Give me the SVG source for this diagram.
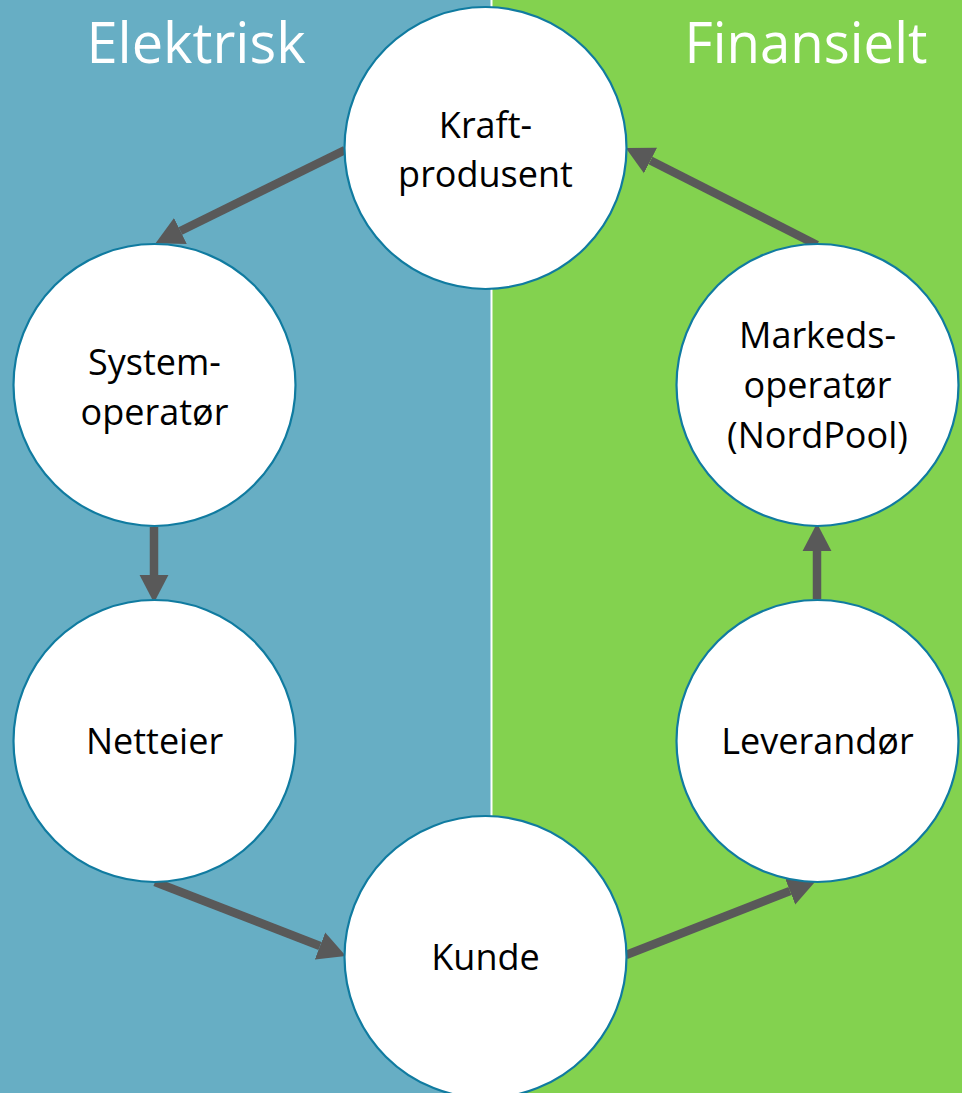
<svg xmlns="http://www.w3.org/2000/svg" width="962" height="1093" viewBox="0 0 962 1093">
<defs>
<style>
.node circle{fill:#FFFFFF;stroke:#107BA0;stroke-width:2.2}
.node text{font-family:"Open Sans","Noto Sans","Liberation Sans",sans-serif;font-size:36px;fill:#000;text-anchor:middle}
.title{font-family:"Open Sans","Noto Sans","Liberation Sans",sans-serif;font-size:56px;fill:#FFFFFF;text-anchor:middle}
.conn line{stroke:#595959;stroke-width:8.5;marker-end:url(#ah)}
</style>
<marker id="ah" markerUnits="userSpaceOnUse" markerWidth="30" markerHeight="30" viewBox="0 -13 26 26" refX="0" refY="0" orient="auto">
<path d="M0,-12.5 L24,0 L0,12.5 Z" fill="#595959"/>
</marker>
</defs>
<rect x="0" y="0" width="491" height="1093" fill="#67AEC4"/>
<rect x="491" y="0" width="471" height="1093" fill="#83D24F"/>
<line x1="491.5" y1="0" x2="491.5" y2="1093" stroke="#FFFFFF" stroke-width="2"/>
<text class="title" x="196" y="63">Elektrisk</text>
<text class="title" x="806" y="63" textLength="243" lengthAdjust="spacingAndGlyphs">Finansielt</text>
<g class="conn" id="connectors">
<line x1="345" y1="150" x2="180.4" y2="231"/>
<line x1="154" y1="527" x2="154" y2="575"/>
<line x1="155" y1="882" x2="320" y2="946"/>
<line x1="626" y1="955" x2="790" y2="891"/>
<line x1="817" y1="599" x2="817" y2="551"/>
<line x1="817" y1="245" x2="650.5" y2="160.5"/>
</g>
<g class="node" id="node-kraft">
<circle cx="485.5" cy="148" r="141"/>
<text x="485.5" y="138">Kraft-</text>
<text x="485.5" y="187">produsent</text>
</g>
<g class="node" id="node-system">
<circle cx="154.5" cy="385" r="141"/>
<text x="154.5" y="375">System-</text>
<text x="154.5" y="425">operatør</text>
</g>
<g class="node" id="node-netteier">
<circle cx="154.5" cy="741" r="141"/>
<text x="154.5" y="754">Netteier</text>
</g>
<g class="node" id="node-kunde">
<circle cx="485.5" cy="957" r="141"/>
<text x="485.5" y="970">Kunde</text>
</g>
<g class="node" id="node-leverandor">
<circle cx="817.5" cy="741" r="141"/>
<text x="817.5" y="754">Leverandør</text>
</g>
<g class="node" id="node-markeds">
<circle cx="817.5" cy="385" r="141"/>
<text x="817.5" y="348">Markeds-</text>
<text x="817.5" y="398">operatør</text>
<text x="817.5" y="448">(NordPool)</text>
</g>
</svg>
